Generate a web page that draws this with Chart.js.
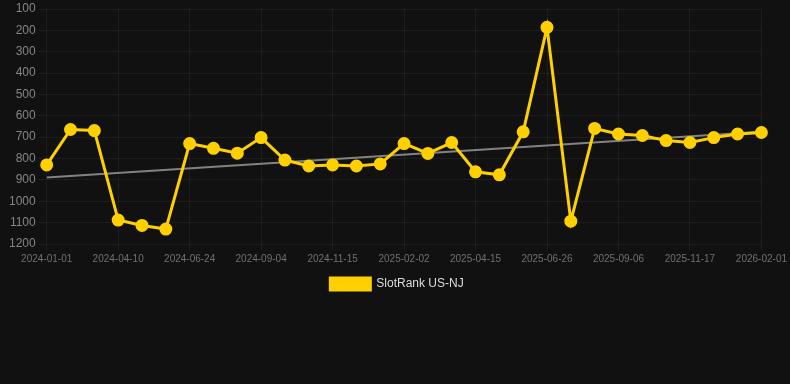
<!DOCTYPE html>
<html>
<head>
<meta charset="utf-8">
<script src="https://cdn.jsdelivr.net/npm/chart.js@4/dist/chart.umd.min.js"></script>
<style>
  html, body { margin: 0; padding: 0; background: #111111; }
  #wrap { position: relative; width: 790px; height: 300px; }
</style>
</head>
<body>
<div id="wrap"><canvas id="c"></canvas></div>
<script>
const categories = [
  "2024-01-01","2024-02-03","2024-03-08","2024-04-10","2024-05-05","2024-05-30",
  "2024-06-24","2024-07-19","2024-08-12","2024-09-04","2024-09-28","2024-10-22",
  "2024-11-15","2024-12-11","2025-01-07","2025-02-02","2025-02-26","2025-03-22",
  "2025-04-15","2025-05-09","2025-06-02","2025-06-26","2025-07-20","2025-08-13",
  "2025-09-06","2025-09-30","2025-10-24","2025-11-17","2025-12-12","2026-01-07",
  "2026-02-01"
];
const rankValues = [
  830, 664, 669, 1088, 1113, 1130,
  730, 752, 775, 702, 807, 835,
  830, 835, 825, 730, 776, 725,
  862, 876, 675, 186, 1093, 659,
  685, 692, 716, 725, 702, 685,
  678
];
const trendStartEnd = [889, 674];
const yTicks = [100, 200, 300, 400, 500, 600, 700, 800, 900, 1000, 1100, 1200];

const trendValues = categories.map((_, i) =>
  i === 0 ? trendStartEnd[0] : (i === categories.length - 1 ? trendStartEnd[1] : null));

const yellow = '#FFD000';

new Chart(document.getElementById('c'), {
  type: 'line',
  data: {
    labels: categories,
    datasets: [
      {
        label: 'SlotRank US-NJ',
        data: rankValues,
        borderColor: yellow,
        backgroundColor: yellow,
        borderWidth: 3,
        pointRadius: 5,
        pointHoverRadius: 6,
        pointBackgroundColor: yellow,
        pointBorderColor: yellow,
        tension: 0,
        order: 1
      },
      {
        label: 'trend',
        data: trendValues,
        borderColor: 'rgba(150,150,150,0.85)',
        backgroundColor: 'rgba(150,150,150,0.85)',
        borderWidth: 2,
        pointRadius: 0,
        spanGaps: true,
        tension: 0,
        order: 2
      }
    ]
  },
  options: {
    responsive: true,
    maintainAspectRatio: false,
    animation: false,
    layout: { padding: { left: 6, right: 2, top: 0, bottom: 0 } },
    plugins: {
      legend: {
        position: 'bottom',
        labels: {
          filter: (item) => item.text !== 'trend',
          color: '#dddddd',
          boxWidth: 40,
          boxHeight: 12,
          font: { family: 'Liberation Sans, Arial, sans-serif', size: 12 }
        }
      },
      tooltip: { enabled: false }
    },
    scales: {
      x: {
        offset: false,
        grid: { color: 'rgba(255,255,255,0.05)', tickLength: 6 },
        border: { display: false },
        ticks: {
          autoSkip: false,
          maxRotation: 0,
          minRotation: 0,
          color: '#707070',
          font: { family: 'Liberation Sans, Arial, sans-serif', size: 10 },
          callback: function(v, i) { return i % 3 === 0 ? categories[i] : null; }
        }
      },
      y: {
        reverse: true,
        min: yTicks[0],
        max: yTicks[yTicks.length - 1],
        afterBuildTicks: (axis) => { axis.ticks = yTicks.map(v => ({ value: v })); },
        afterFit: (axis) => { axis.paddingTop = 2; },
        grid: { color: 'rgba(255,255,255,0.05)', tickLength: 8 },
        border: { display: false },
        ticks: {
          color: '#858585',
          padding: 3,
          font: { family: 'Liberation Sans, Arial, sans-serif', size: 12, lineHeight: 1 },
          callback: (v) => String(v)
        }
      }
    }
  }
});
</script>
</body>
</html>
